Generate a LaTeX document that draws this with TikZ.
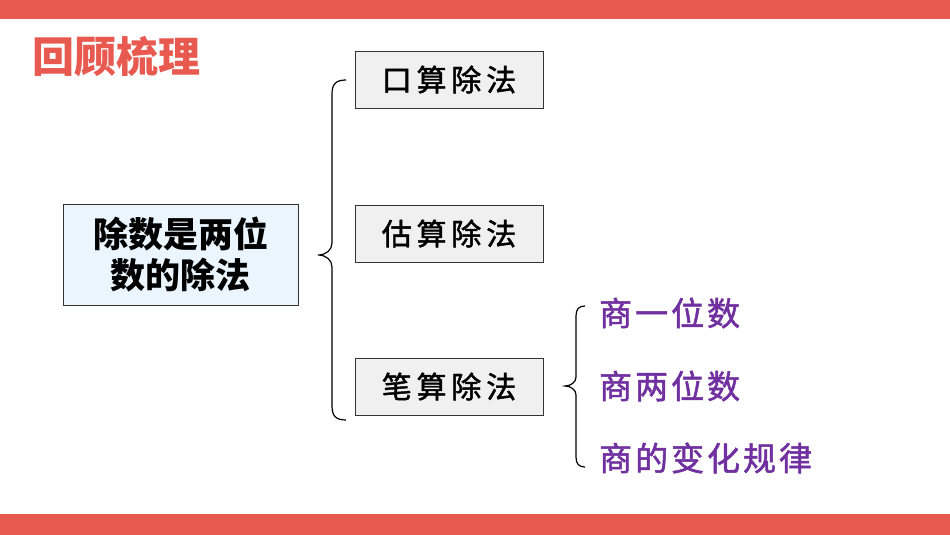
\documentclass[tikz,border=0pt]{standalone}
\usepackage{fontspec}
\newfontfamily\cjk{Noto Sans CJK SC}
\newfontfamily\cjkls[LetterSpace=16,FakeBold=1.5]{Noto Sans CJK SC}
\newfontfamily\cjkp[LetterSpace=9,FakeBold=1.5]{Noto Sans CJK SC}
\definecolor{barred}{HTML}{E85A50}
\definecolor{mypurple}{HTML}{7030A0}
\definecolor{boxblue}{HTML}{EAF5FD}
\definecolor{boxgray}{HTML}{F0F0F0}
\tikzset{
  mainbox/.style={draw=black!80, line width=0.9pt, fill=boxblue, minimum width=235pt, minimum height=101pt, inner sep=0pt, align=center, font=\cjk\bfseries\fontsize{35}{41}\selectfont},
  subbox/.style={draw=black!80, line width=0.9pt, fill=boxgray, minimum width=188pt, minimum height=57pt, inner sep=0pt, font=\cjkls\fontsize{30}{36}\selectfont},
  leaf/.style={anchor=west, inner sep=0pt, text=mypurple, font=\cjkp\fontsize{33}{40}\selectfont},
  bracestyle/.style={draw=black, line width=1.2pt}
}
\begin{document}
\begin{tikzpicture}[x=1pt,y=-1pt]
\useasboundingbox (0,0) rectangle (950,535);
\fill[white] (0,0) rectangle (950,535);
\fill[barred] (0,0) rectangle (950,19);
\fill[barred] (0,514) rectangle (950,535);
\node[anchor=west, inner sep=0pt, text=barred, font=\cjk\bfseries\fontsize{42}{48}\selectfont] (title) at (32,57) {回顾梳理};
\node[mainbox] (main) at (180.5,254.5) {除数是两位\\数的除法};
\node[subbox] (ks) at (449,79.5) {口算除法};
\node[subbox] (gs) at (449,233.5) {估算除法};
\node[subbox] (bs) at (449,386.5) {笔算除法};
\node[leaf] (l1) at (599,313) {商一位数};
\node[leaf] (l2) at (599,386) {商两位数};
\node[leaf] (l3) at (599,458) {商的变化规律};
% big brace
\coordinate (bt) at (346,80);
\coordinate (bb) at (346,420);
\coordinate (btip) at (318,255);
\draw[bracestyle] (bt) .. controls (336,80) and (332,84) .. (332,94)
  -- (332,243) .. controls (332,250) and (326,255) .. (btip)
  .. controls (326,255) and (332,260) .. (332,267)
  -- (332,406) .. controls (332,416) and (336,420) .. (bb);
% small brace
\coordinate (st) at (585,306);
\coordinate (sb) at (585,467);
\coordinate (stip) at (565,386);
\draw[bracestyle] (st) .. controls (579,306) and (576,309) .. (576,316)
  -- (576,377) .. controls (576,382) and (571,386) .. (stip)
  .. controls (571,386) and (576,390) .. (576,395)
  -- (576,457) .. controls (576,464) and (579,467) .. (sb);
\end{tikzpicture}
\end{document}
